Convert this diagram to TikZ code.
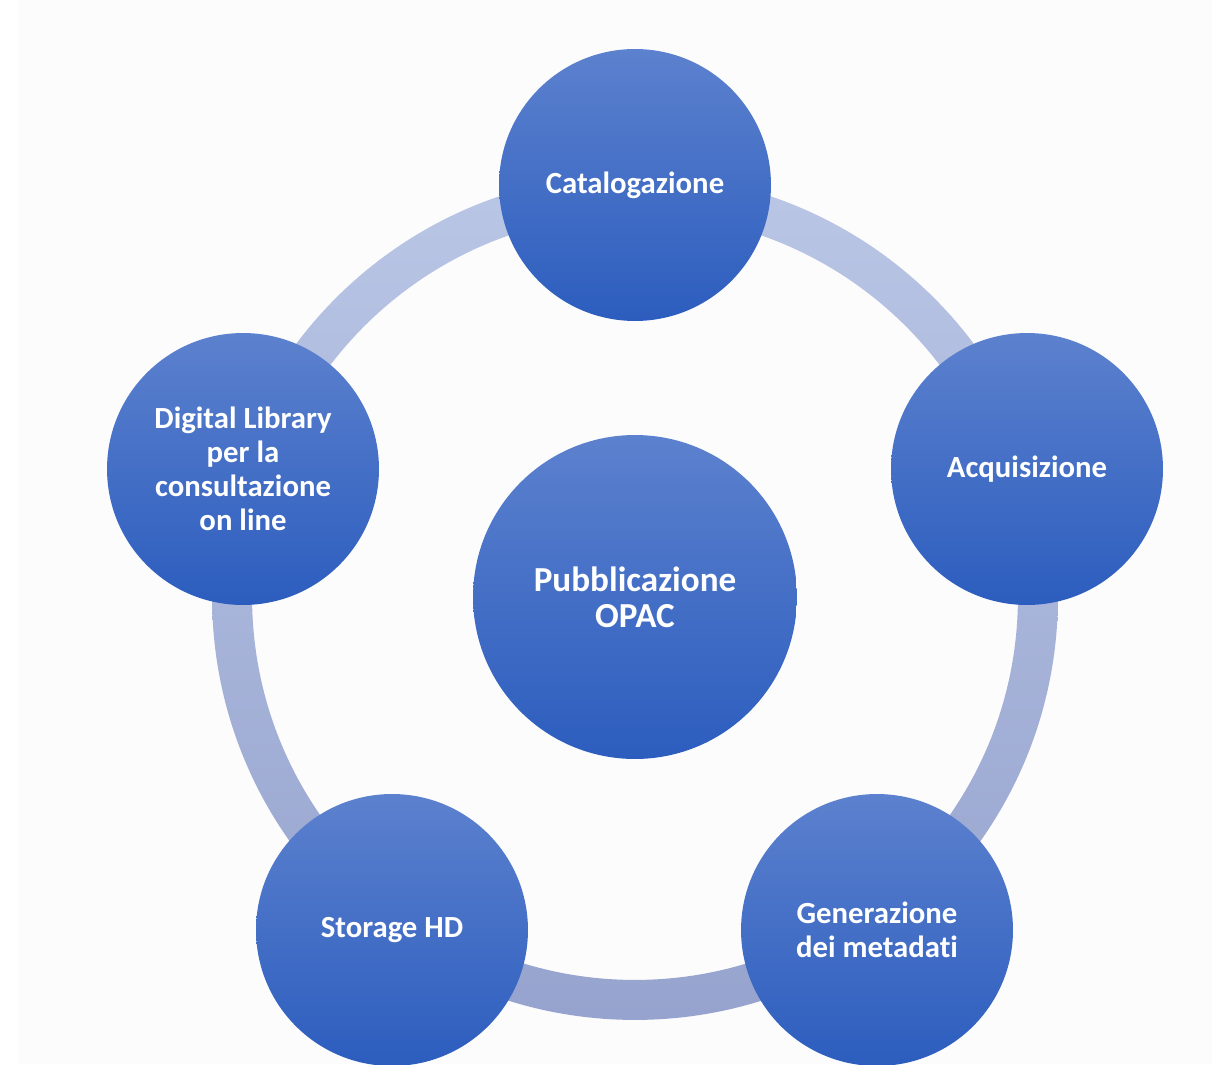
\documentclass[tikz,border=0pt]{standalone}
\usepackage{fontspec}
\setmainfont[Ligatures=NoCommon]{Carlito}
\definecolor{bluetop}{RGB}{92,129,206}
\definecolor{bluebot}{RGB}{44,93,190}
\definecolor{ringtop}{RGB}{186,198,229}
\definecolor{ringbot}{RGB}{150,163,206}
\begin{document}
\begin{tikzpicture}[x=0.02cm,y=-0.02cm]

      \useasboundingbox (0,0) rectangle (1212,1064);
      \fill[white] (0,0) rectangle (1212,1064);
      \fill[black!1] (18,0) rectangle (1212,1064);

      \coordinate (c) at (635,597);
      \path[top color=ringtop, bottom color=ringbot, even odd rule]
        (c) circle[radius=8.46cm] (c) circle[radius=7.66cm];

      \begin{scope}[every node/.style={circle, top color=bluetop, bottom color=bluebot,
          text=white, align=center, inner sep=0pt, minimum size=5.44cm,
          font=\bfseries\fontsize{17.5}{19.3}\selectfont}]
        \node (1) at (635,185) {Catalogazione};
        \node (2) at (1027,469) {Acquisizione};
        \node (3) at (877,930) {Generazione\\dei metadati};
        \node (4) at (392,930) {Storage HD};
        \node (5) at (243,469) {Digital Library\\per la\\consultazione\\on line};
        \node[minimum size=6.48cm, font=\bfseries\fontsize{20}{20.5}\selectfont]
          (6) at (c) {Pubblicazione\\OPAC};
      \end{scope}

    \end{tikzpicture}
\end{document}
